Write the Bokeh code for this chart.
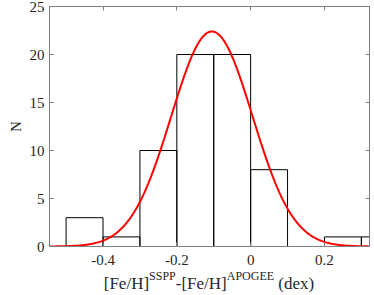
import numpy as np
from bokeh.plotting import figure
from bokeh.models import Range1d, LinearAxis, FixedTicker, Div
from bokeh.layouts import column
from bokeh.embed import file_html
from bokeh.resources import INLINE

# ---- data ----
bin_left = [-0.5, -0.4, -0.3, -0.2, -0.1, 0.0, 0.1, 0.2, 0.3]
bin_right = [-0.4, -0.3, -0.2, -0.1, 0.0, 0.1, 0.2, 0.3, 0.4]
counts = [3, 1, 10, 20, 20, 8, 0, 1, 1]

# Gaussian fit parameters
fit_mu = -0.105
fit_sigma = 0.11
fit_amp = 22.4

x_ticks = [-0.4, -0.2, 0.0, 0.2]
x_tick_labels = ["-0.4", "-0.2", "0", "0.2"]
y_ticks = [0, 5, 10, 15, 20, 25]
y_tick_labels = ["0", "5", "10", "15", "20", "25"]

y_label = "N"
x_label_parts = ["[Fe/H]", "SSPP", "-[Fe/H]", "APOGEE", " (dex)"]

# ---- layout ----
XMIN, XMAX = -0.545, 0.322
YMIN, YMAX = 0, 25
W, H = 374, 271
ML, MR, MT, MB = 49, 5, 6, 25
FONT = "'Liberation Serif'"
CSS_FONT = "'Liberation Serif', 'Times New Roman', serif"
TXT = "#262626"
AX = "#808080"

p = figure(width=W, height=H, x_range=Range1d(XMIN, XMAX), y_range=Range1d(YMIN, YMAX),
           output_backend="svg", toolbar_location=None,
           min_border_left=ML, min_border_right=MR, min_border_top=MT, min_border_bottom=MB)
p.grid.visible = False
p.outline_line_color = AX
p.outline_line_width = 1
p.background_fill_color = "white"
p.border_fill_color = "white"

top_ax = LinearAxis()
right_ax = LinearAxis()
p.add_layout(top_ax, "above")
p.add_layout(right_ax, "right")


def style_axis(ax, ticks, labels, show):
    ax.ticker = FixedTicker(ticks=ticks)
    ax.major_tick_in = 4
    ax.major_tick_out = 0
    ax.minor_tick_in = 0
    ax.minor_tick_out = 0
    ax.axis_line_color = AX
    ax.major_tick_line_color = AX
    ax.major_label_text_font = FONT
    ax.major_label_text_color = TXT
    if show:
        ax.major_label_overrides = {t: l for t, l in zip(ticks, labels)}
        ax.major_label_text_font_size = "15px"
    else:
        ax.major_label_overrides = {t: "" for t in ticks}
        ax.major_label_text_font_size = "1px"
        ax.major_label_standoff = 0


style_axis(p.below[0], x_ticks, x_tick_labels, True)
style_axis(top_ax, x_ticks, x_tick_labels, False)
style_axis(p.left[0], y_ticks, y_tick_labels, True)
style_axis(right_ax, y_ticks, y_tick_labels, False)
p.below[0].major_label_standoff = 8
p.left[0].major_label_standoff = 5

ly = p.left[0]
ly.axis_label = y_label
ly.axis_label_text_font = FONT
ly.axis_label_text_font_style = "normal"
ly.axis_label_text_font_size = "15px"
ly.axis_label_text_color = TXT
ly.axis_label_standoff = 3

# histogram
p.quad(left=bin_left, right=bin_right, bottom=0, top=counts,
       fill_color=None, line_color="black", line_width=1)

# gaussian fit curve
xs = np.linspace(XMIN, XMAX, 400)
ys = fit_amp * np.exp(-(xs - fit_mu) ** 2 / (2 * fit_sigma ** 2))
p.line(xs, ys, line_color="#ff0000", line_width=2)

# x-axis label with superscripts, as real text below the figure
sup = '<sup style="font-size:12px;vertical-align:9px;line-height:0">{}</sup>'
label_html = (x_label_parts[0] + sup.format(x_label_parts[1]) + x_label_parts[2]
              + sup.format(x_label_parts[3]) + x_label_parts[4])
DIV_H = 295 - H
div = Div(text=(f'<div style="width:{W}px;height:{DIV_H}px;line-height:26px;'
                f'font-family:{CSS_FONT};font-size:17px;color:{TXT};text-align:center;'
                f'padding-left:44px;box-sizing:border-box;white-space:nowrap;margin:0">'
                f'{label_html}</div>'),
          width=W, height=DIV_H, margin=0)

layout = column(p, div, spacing=0)
open("out.html", "w").write(file_html(layout, INLINE))
